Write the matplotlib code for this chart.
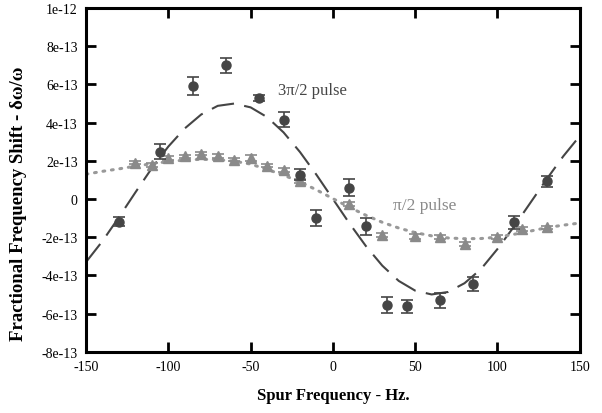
import numpy as np
import matplotlib
matplotlib.use("Agg")
import matplotlib.pyplot as plt

# 3pi/2 pulse measurements (units of 1e-13)
circ_x = [-130, -105, -85, -65, -45, -30, -20, -10, 10, 20, 33, 45, 65, 85, 110, 130]
circ_y = [-1.19, 2.48, 5.92, 7.0, 5.3, 4.16, 1.28, -1.0, 0.6, -1.43, -5.55, -5.63, -5.3, -4.46, -1.23, 0.93]
circ_err = [0.24, 0.4, 0.48, 0.38, 0.15, 0.4, 0.3, 0.4, 0.44, 0.44, 0.4, 0.35, 0.4, 0.35, 0.35, 0.3]

# pi/2 pulse measurements (units of 1e-13)
tri_x = [-120, -110, -100, -90, -80, -70, -60, -50, -40, -30, -20, 10, 30, 50, 65, 80, 100, 115, 130]
tri_y = [1.89, 1.8, 2.13, 2.24, 2.36, 2.27, 2.05, 2.15, 1.75, 1.52, 0.96, -0.26, -1.89, -1.96, -2.01, -2.36, -1.98, -1.57, -1.49]
tri_err = [0.08, 0.1, 0.1, 0.08, 0.08, 0.1, 0.08, 0.15, 0.08, 0.1, 0.1, 0.12, 0.12, 0.15, 0.1, 0.12, 0.1, 0.1, 0.1]

# fit curves (units of 1e-13)
fit_x = list(range(-150, 151, 10))
fit_dash = [-3.30, -2.20, -0.95, 0.35, 1.62, 2.75, 3.70, 4.43, 4.88, 5.00, 4.80, 4.29, 3.49, 2.46, 1.27,
            0.0, -1.27, -2.46, -3.49, -4.29, -4.80, -5.00, -4.87, -4.41, -3.67, -2.62, -1.45, -0.20, 1.05, 2.24, 3.30]
fit_dot = [1.30, 1.45, 1.58, 1.72, 1.85, 1.96, 2.04, 2.08, 2.06, 1.98, 1.83, 1.55, 1.25, 0.90, 0.48,
           0.02, -0.43, -0.85, -1.22, -1.52, -1.76, -1.93, -2.04, -2.08, -2.07, -2.00, -1.85, -1.68, -1.50, -1.37, -1.26]

x_ticks = [-150, -100, -50, 0, 50, 100, 150]
y_ticks = [-8, -6, -4, -2, 0, 2, 4, 6, 8, 10]
y_labels = ["-8e-13", "-6e-13", "-4e-13", "-2e-13", "0", "2e-13", "4e-13", "6e-13", "8e-13", "1e-12"]

plt.rcParams["font.family"] = ["Liberation Serif", "DejaVu Serif"]
plt.rcParams["axes.unicode_minus"] = False

dark = "#454545"
light = "#8a8a8a"

fig = plt.figure(figsize=(6.02, 4.14), dpi=100)
ax = fig.add_axes([0.143, 0.148, 0.820, 0.830])

ax.plot(fit_x, fit_dash, color=dark, lw=1.5, dashes=(11, 5), zorder=2)
ax.plot(fit_x, fit_dot, color="#999999", lw=2.2, dashes=(0.6, 2.2), dash_capstyle="round", zorder=2)

ax.errorbar(tri_x, tri_y, yerr=tri_err, fmt="^", color=light, ms=7, capsize=4,
            elinewidth=1.2, capthick=1.2, zorder=3)
ax.errorbar(circ_x, circ_y, yerr=circ_err, fmt="o", color=dark, ms=6.5, capsize=4,
            elinewidth=1.2, capthick=1.2, zorder=4)

ax.text(-33.5, 5.72, "3\u03c0/2 pulse", color=dark, fontsize=12, va="center")
ax.text(36.5, -0.31, "\u03c0/2 pulse", color=light, fontsize=12.5, va="center")

ax.set_xlim(-150, 150)
ax.set_ylim(-8, 10)
ax.set_xticks(x_ticks)
ax.set_yticks(y_ticks)
ax.set_yticklabels(y_labels)
ax.tick_params(direction="in", length=7, width=2, top=True, right=True,
               labelsize=10, pad=6)
for s in ax.spines.values():
    s.set_linewidth(2.2)

ax.set_xlabel("Spur Frequency - Hz.", fontsize=12, fontweight="bold", labelpad=10)
ax.set_ylabel("Fractional Frequency Shift - \u03b4\u03c9/\u03c9", fontsize=13.5, fontweight="bold")
ax.yaxis.set_label_coords(-0.119, 0.433)

fig.savefig("out.png", dpi=100)
